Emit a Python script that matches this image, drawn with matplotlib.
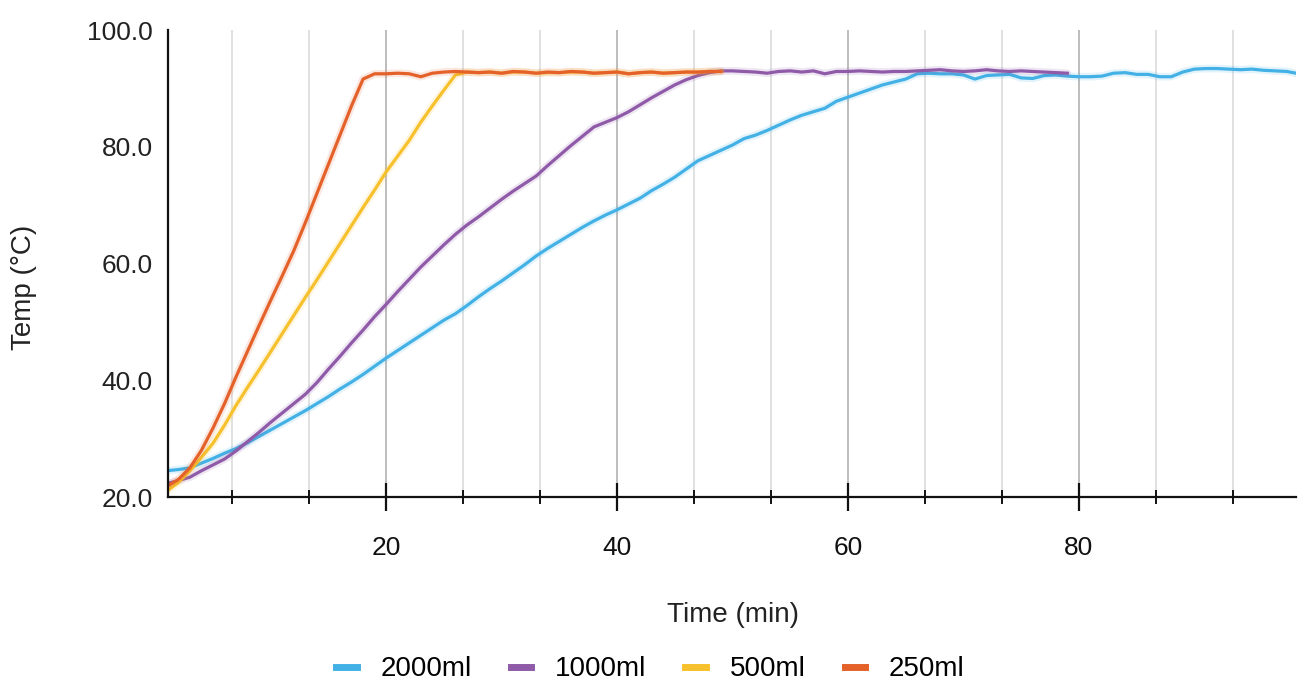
import matplotlib
matplotlib.use("Agg")
import matplotlib.pyplot as plt
from matplotlib.ticker import MultipleLocator, FormatStrFormatter

# time axis (min) for each run
t_2000 = list(range(1, 99)) + [98.8]
t_1000 = list(range(1, 80))
t_500 = list(range(1, 50))
t_250 = list(range(1, 50))

temp_2000 = [24.5, 24.7, 25.0, 25.8, 26.6, 27.5, 28.3, 29.3, 30.4, 31.5,
             32.6, 33.7, 34.8, 36.0, 37.2, 38.5, 39.7, 41.0, 42.4, 43.8,
             45.1, 46.4, 47.7, 49.0, 50.3, 51.4, 52.8, 54.3, 55.7, 57.0,
             58.4, 59.8, 61.3, 62.6, 63.8, 65.0, 66.2, 67.3, 68.3, 69.2,
             70.2, 71.2, 72.5, 73.6, 74.8, 76.2, 77.6, 78.5, 79.4, 80.3,
             81.4, 82.0, 82.8, 83.7, 84.6, 85.4, 86.0, 86.6, 87.8, 88.5,
             89.2, 89.9, 90.6, 91.1, 91.6, 92.5, 92.6, 92.5, 92.5, 92.3,
             91.6, 92.2, 92.3, 92.4, 91.8, 91.7, 92.2, 92.3, 92.1, 92.0,
             92.0, 92.1, 92.6, 92.7, 92.4, 92.4, 92.0, 92.0, 92.8, 93.3,
             93.4, 93.4, 93.3, 93.2, 93.3, 93.1, 93.0, 92.9, 92.6]

temp_1000 = [22.3, 22.8, 23.4, 24.5, 25.5, 26.5, 27.9, 29.5, 31.1, 32.8,
             34.4, 36.0, 37.6, 39.6, 41.9, 44.1, 46.4, 48.6, 50.9, 53.0,
             55.2, 57.3, 59.4, 61.3, 63.2, 65.0, 66.6, 68.0, 69.5, 71.0,
             72.4, 73.7, 75.0, 76.8, 78.5, 80.2, 81.8, 83.4, 84.2, 85.0,
             86.0, 87.2, 88.4, 89.5, 90.6, 91.5, 92.2, 92.7, 93.0, 93.0,
             92.9, 92.8, 92.6, 92.9, 93.0, 92.8, 93.0, 92.5, 92.9, 92.9,
             93.0, 92.9, 92.8, 92.9, 92.9, 93.0, 93.1, 93.2, 93.0, 92.9,
             93.0, 93.2, 93.0, 92.9, 93.0, 92.9, 92.8, 92.7, 92.6]

temp_500 = [21.0, 22.5, 24.5, 26.8, 29.2, 32.3, 35.7, 38.8, 41.8, 44.9,
            48.0, 51.1, 54.2, 57.2, 60.3, 63.4, 66.5, 69.6, 72.6, 75.7,
            78.4, 81.1, 84.2, 87.0, 89.7, 92.3, 92.8, 92.7, 92.8, 92.6,
            92.8, 92.8, 92.6, 92.7, 92.7, 92.8, 92.8, 92.6, 92.7, 92.8,
            92.5, 92.7, 92.8, 92.6, 92.7, 92.8, 92.8, 92.9, 92.9]

temp_250 = [21.8, 23.0, 25.0, 28.0, 31.8, 36.0, 40.6, 45.0, 49.4, 53.7,
            57.9, 62.2, 67.0, 72.0, 77.0, 82.0, 87.0, 91.6, 92.5, 92.5,
            92.6, 92.5, 92.0, 92.6, 92.8, 92.9, 92.8, 92.7, 92.8, 92.6,
            92.9, 92.8, 92.6, 92.8, 92.7, 92.9, 92.8, 92.6, 92.7, 92.8,
            92.5, 92.7, 92.8, 92.6, 92.7, 92.8, 92.8, 92.9, 92.9]

labels = ["2000ml", "1000ml", "500ml", "250ml"]
colors = ["#43b1e5", "#8f5aa8", "#f6c12c", "#e4612a"]

plt.rcParams["font.family"] = ["Liberation Sans", "DejaVu Sans"]

fig = plt.figure(figsize=(13.06, 6.9), dpi=100)
ax = fig.add_axes([0.1286, 0.2797, 0.8637, 0.6768])

series = [(t_2000, temp_2000), (t_1000, temp_1000),
          (t_500, temp_500), (t_250, temp_250)]
for (t, y), lab, c in zip(series, labels, colors):
    # soft halo under each line
    ax.plot(t, y, color=c, lw=5.5, alpha=0.15, solid_capstyle="round")
    ax.plot(t, y, color=c, lw=2.3, label=lab, solid_joinstyle="round")

ax.set_xlim(1.1, 98.8)
ax.set_ylim(20, 100)

ax.xaxis.set_major_locator(MultipleLocator(20))
ax.xaxis.set_minor_locator(MultipleLocator(20 / 3))
ax.yaxis.set_major_locator(MultipleLocator(20))
ax.yaxis.set_major_formatter(FormatStrFormatter("%.1f"))

ax.grid(which="major", axis="x", color="#b8b8b8", lw=1.3)
ax.grid(which="minor", axis="x", color="#dedede", lw=1.3)
ax.set_axisbelow(True)

for side in ["top", "right"]:
    ax.spines[side].set_visible(False)
for side in ["left", "bottom"]:
    ax.spines[side].set_linewidth(1.6)
    ax.spines[side].set_color("#111111")

ax.tick_params(axis="x", which="major", direction="inout", length=20,
               width=1.6, labelsize=19, pad=18, colors="#111111")
ax.tick_params(axis="x", which="minor", direction="inout", length=9.5,
               width=1.4, colors="#111111")
ax.tick_params(axis="y", length=0, labelsize=19, pad=11, colors="#222222")

fig.text(0.561, 0.109, "Time (min)", ha="center", va="center", fontsize=20,
         color="#222222")
fig.text(0.018, 0.584, "Temp (°C)", ha="center", va="center", fontsize=20,
         rotation=90, color="#222222")

handles, labs = ax.get_legend_handles_labels()
leg = fig.legend(handles, labs, loc="center", bbox_to_anchor=(0.498, 0.03),
                 ncol=4, frameon=False, fontsize=20, handlelength=0.75,
                 handletextpad=0.85, columnspacing=1.4)
for line in leg.get_lines():
    line.set_linewidth(5)

fig.savefig("out.png", dpi=100)
